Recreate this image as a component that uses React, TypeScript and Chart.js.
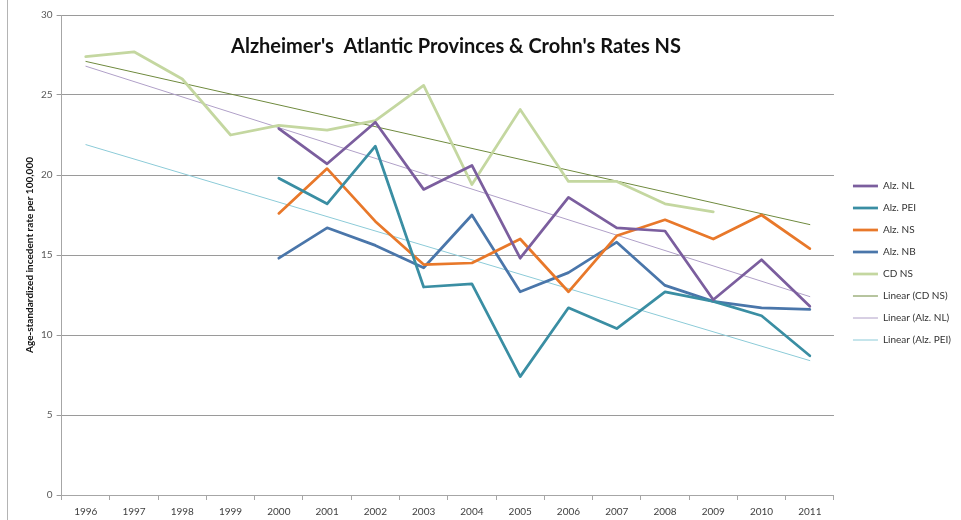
import { useEffect, useRef } from 'react';
import { Chart, registerables } from 'chart.js';

Chart.register(...registerables);

const TITLE = "Alzheimer's  Atlantic Provinces & Crohn's Rates NS";
const Y_TITLE = 'Age-standardized incedent rate per 100,000';

const years = ['1996', '1997', '1998', '1999', '2000', '2001', '2002', '2003', '2004', '2005', '2006', '2007', '2008', '2009', '2010', '2011'];

const alzNL = [null, null, null, null, 22.9, 20.7, 23.3, 19.1, 20.6, 14.8, 18.6, 16.7, 16.5, 12.2, 14.7, 11.8];
const alzPEI = [null, null, null, null, 19.8, 18.2, 21.8, 13.0, 13.2, 7.4, 11.7, 10.4, 12.7, 12.1, 11.2, 8.7];
const alzNS = [null, null, null, null, 17.6, 20.4, 17.1, 14.4, 14.5, 16.0, 12.7, 16.2, 17.2, 16.0, 17.5, 15.4];
const alzNB = [null, null, null, null, 14.8, 16.7, 15.6, 14.2, 17.5, 12.7, 13.9, 15.8, 13.1, 12.1, 11.7, 11.6];
const cdNS = [27.4, 27.7, 26.0, 22.5, 23.1, 22.8, 23.4, 25.6, 19.4, 24.1, 19.6, 19.6, 18.2, 17.7, null, null];

// Trendline endpoints, joined straight across the gap
const linearCDNS = [27.1, null, null, null, null, null, null, null, null, null, null, null, null, null, null, 16.9];
const linearNL = [26.8, null, null, null, null, null, null, null, null, null, null, null, null, null, null, 12.4];
const linearPEI = [21.9, null, null, null, null, null, null, null, null, null, null, null, null, null, null, 8.4];

const yTicks = [0, 5, 10, 15, 20, 25, 30];

const titlePlugin = {
  id: 'overlayTitle',
  afterDraw(chart: any) {
    const ctx = chart.ctx;
    ctx.save();
    ctx.font = 'bold 20px Lato';
    ctx.fillStyle = '#111111';
    ctx.textAlign = 'center';
    ctx.textBaseline = 'middle';
    ctx.fillText(TITLE, 456, 47);
    ctx.restore();
  },
};

function series(label: string, data: (number | null)[], color: string, width: number, trend = false) {
  return {
    label,
    data,
    borderColor: color,
    backgroundColor: color,
    borderWidth: width,
    pointRadius: 0,
    pointHoverRadius: 0,
    pointStyle: 'line',
    spanGaps: trend,
    tension: 0,
    borderCapStyle: 'round',
    borderJoinStyle: 'round',
    fill: false,
  };
}

export default function App() {
  const ref = useRef<HTMLCanvasElement>(null);

  useEffect(() => {
    if (!ref.current) return;
    Chart.defaults.font.family = 'Lato';
    const chart = new Chart(ref.current, {
      type: 'line',
      data: {
        labels: years,
        datasets: [
          series('Alz. NL', alzNL, '#7b5e9e', 2.75),
          series('Alz. PEI', alzPEI, '#3a8ea3', 2.75),
          series('Alz. NS', alzNS, '#e8782a', 2.75),
          series('Alz. NB', alzNB, '#4a76aa', 2.75),
          series('CD NS', cdNS, '#c4d7a0', 2.75),
          series('Linear (CD NS)', linearCDNS, '#6f8a3e', 1, true),
          series('Linear (Alz. NL)', linearNL, '#b0a0c8', 1, true),
          series('Linear (Alz. PEI)', linearPEI, '#8ccbd8', 1, true),
        ] as any,
      },
      options: {
        animation: false,
        responsive: true,
        maintainAspectRatio: false,
        layout: { padding: { left: 22, top: 15, right: 0, bottom: 0 } },
        plugins: {
          legend: {
            position: 'right',
            fullSize: false,
            title: { display: true, text: '', font: { size: 10 }, padding: { top: 2, bottom: 2 } },
            labels: {
              usePointStyle: true,
              pointStyleWidth: 25,
              padding: 12,
              color: '#333333',
              font: { size: 10, family: 'Lato' },
            },
          },
          tooltip: { enabled: false },
        },
        scales: {
          x: {
            offset: true,
            grid: {
              display: true,
              drawOnChartArea: false,
              drawTicks: true,
              tickLength: 5,
              offset: true,
              color: '#a6a6a6',
            },
            border: { display: true, color: '#a6a6a6' },
            ticks: {
              autoSkip: false,
              maxRotation: 0,
              padding: 6,
              color: '#404040',
              font: { size: 10, family: 'Lato' },
            },
          },
          y: {
            min: 0,
            max: 30,
            afterBuildTicks: (s: any) => {
              s.ticks = yTicks.map((v) => ({ value: v }));
            },
            grid: { color: '#9a9a9a', tickLength: 5, drawTicks: true },
            border: { display: true, color: '#a6a6a6' },
            ticks: { padding: 4, color: '#595959', font: { size: 10, family: 'Lato' } },
            title: {
              display: true,
              text: Y_TITLE,
              color: '#111111',
              font: { size: 10, weight: 'bold', family: 'Lato' },
              padding: { top: 2, bottom: 1 },
            },
          },
          ySpacer: {
            position: 'right',
            display: true,
            grid: { display: false },
            border: { display: false },
            ticks: { display: false },
            afterFit: (s: any) => {
              s.width = 7;
            },
          },
        },
      },
      plugins: [titlePlugin],
    } as any);
    return () => chart.destroy();
  }, []);

  return (
    <div style={{ position: 'absolute', left: 0, top: 0, width: 961, height: 520, overflow: 'hidden', background: '#ffffff' }}>
      <div style={{ position: 'absolute', left: 7, top: 0, width: 1, height: 520, background: '#b4b4b4' }} />
      <div style={{ position: 'absolute', left: 0, top: 0, width: 961, height: 524 }}>
        <canvas ref={ref} />
      </div>
    </div>
  );
}
